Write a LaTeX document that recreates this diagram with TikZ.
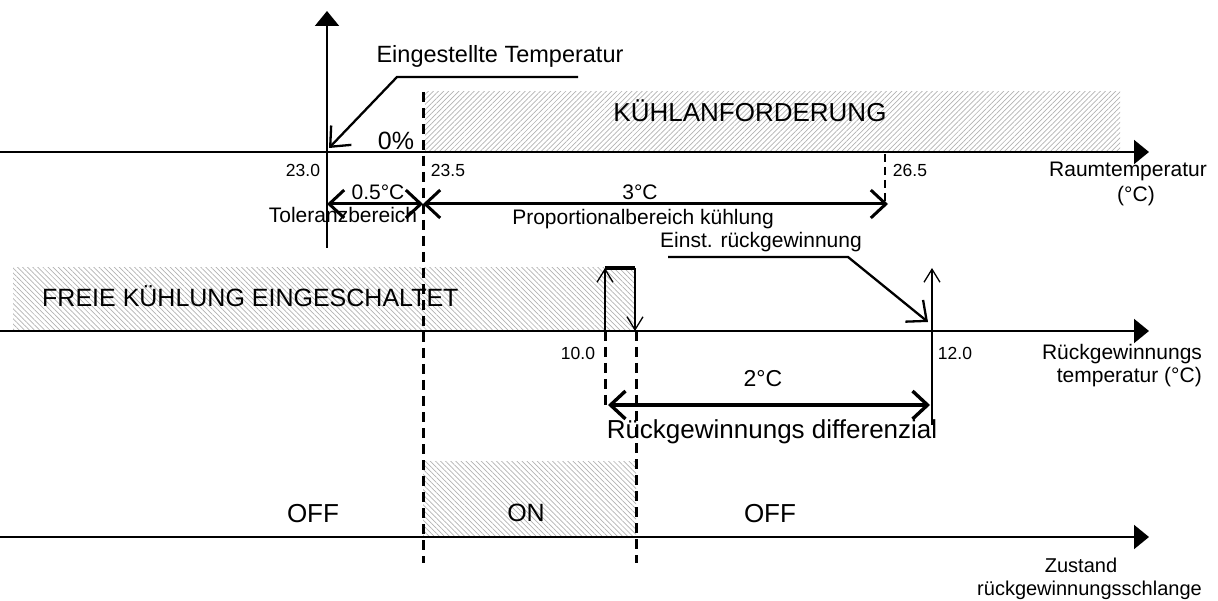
\documentclass[tikz,border=0pt]{standalone}
\usepackage{fontspec}
\setmainfont{Liberation Sans}
\usetikzlibrary{arrows.meta,patterns.meta}
\begin{document}
\begin{tikzpicture}[x=1pt,y=-1pt,
  axisline/.style={line width=1.9pt,-{Triangle[length=15pt,width=24pt]}},
  dimarrow/.style={line width=3pt,{Straight Barb[length=15pt,width=28pt]}-{Straight Barb[length=15pt,width=28pt]}},
  leader/.style={line width=2.3pt,-{Straight Barb[length=16pt,width=28pt]}},
  thinarrow/.style={line width=1.3pt,-{Straight Barb[length=13pt,width=16pt]}},
  dline/.style={line width=3pt,dash pattern=on 10pt off 6pt},
  dthin/.style={line width=1.8pt,dash pattern=on 8pt off 5pt},
  hatchA/.style={pattern={Lines[angle=45,distance=3.6pt,line width=0.7pt]},pattern color=gray!60},
  hatchB/.style={pattern={Lines[angle=-45,distance=3.6pt,line width=0.7pt]},pattern color=gray!60},
  big/.style={inner sep=0pt,anchor=base,font=\fontsize{26}{30}\selectfont},
  mid/.style={inner sep=0pt,anchor=base,font=\fontsize{21}{25}\selectfont},
  small/.style={inner sep=0pt,anchor=base,font=\fontsize{17.5}{21}\selectfont}]
\useasboundingbox (0,0) rectangle (1218,601);

% hatched areas
\path[hatchA] (425,92) rectangle (1120,152);
\path[hatchB] (13,268) rectangle (635,331);
\path[hatchB] (423,461) rectangle (636,537);

% coordinates
\coordinate (vb) at (327,248);
\coordinate (vt) at (327,11);
\coordinate (a1s) at (0,152);
\coordinate (a1e) at (1149,152);
\coordinate (a2s) at (0,331);
\coordinate (a2e) at (1149,331);
\coordinate (a3s) at (0,537);
\coordinate (a3e) at (1149,537);
\coordinate (d1t) at (423,92);
\coordinate (d1b) at (423,563);
\coordinate (d2t) at (636,331);
\coordinate (d2b) at (636,563);
\coordinate (d3t) at (605,331);
\coordinate (d3b) at (605,410);
\coordinate (d4t) at (885,154);
\coordinate (d4b) at (885,206);
\coordinate (t230) at (327,204);
\coordinate (t235) at (423,204);
\coordinate (t265) at (888,204);
\coordinate (e1) at (578,77);
\coordinate (e2) at (397,77);
\coordinate (e3) at (329,148);
\coordinate (r1) at (668,257);
\coordinate (r2) at (848,257);
\coordinate (r3) at (928,322);
\coordinate (h1) at (605,331);
\coordinate (h2) at (605,268);
\coordinate (h3) at (635,268);
\coordinate (h4) at (635,331);
\coordinate (g1) at (932,425);
\coordinate (g2) at (932,268);
\coordinate (k1) at (608,405);
\coordinate (k2) at (930,405);

% axes
\draw[axisline] (vb) -- (vt);
\draw[axisline] (a1s) -- (a1e);
\draw[axisline] (a2s) -- (a2e);
\draw[axisline] (a3s) -- (a3e);

% dashed lines
\draw[dline] (d1t) -- (d1b);
\draw[dline] (d2t) -- (d2b);
\draw[dline] (d3t) -- (d3b);
\draw[dthin] (d4t) -- (d4b);

% dimension arrows
\draw[dimarrow] (t230) -- (t235);
\draw[dimarrow] (t235) -- (t265);
\draw[dimarrow,line width=3.4pt] (k1) -- (k2);

% leaders
\draw[leader] (e1) -- (e2) -- (e3);
\draw[leader] (r1) -- (r2) -- (r3);

% hysteresis
\draw[thinarrow] (h1) -- (h2);
\draw[line width=3.4pt] (h2) -- (h3);
\draw[thinarrow] (h3) -- (h4);
\draw[thinarrow] (g1) -- (g2);

% texts
\node[mid,font=\fontsize{23.5}{27}\selectfont] (tEing) at (500,63) {Eingestellte Temperatur};
\node[big] (tKuehl) at (750,122) {KÜHLANFORDERUNG};
\node[big,font=\fontsize{25}{29}\selectfont] (tNull) at (396,150) {0\%};
\node[small] (t230l) at (303,177) {23.0};
\node[small] (t235l) at (448,177) {23.5};
\node[small] (t265l) at (910,177) {26.5};
\node[mid] (tRaum) at (1128,177) {Raumtemperatur};
\node[mid] (tRaumC) at (1136,202) {(°C)};
\node[mid] (t05) at (378,200) {0.5°C};
\node[mid] (t3) at (640,200) {3°C};
\node[mid] (tTol) at (343,223) {Toleranzbereich};
\node[mid] (tProp) at (643,225) {Proportionalbereich kühlung};
\node[mid] (tEinst) at (761,248) {Einst. rückgewinnung};
\node[big,font=\fontsize{25}{29}\selectfont,anchor=base west] (tFrei) at (42,307) {FREIE KÜHLUNG EINGESCHALTET};
\node[small] (t100) at (578,360) {10.0};
\node[small] (t120) at (955,360) {12.0};
\node[mid] (tRueck) at (1122,360) {Rückgewinnungs};
\node[mid,anchor=base east] (tRueckT) at (1202,382) {temperatur (°C)};
\node[mid,font=\fontsize{23}{27}\selectfont] (t2) at (763,387) {2°C};
\node[big] (tDiff) at (772,438) {Rückgewinnungs differenzial};
\node[big] (tOff1) at (313,522) {OFF};
\node[big,font=\fontsize{25}{29}\selectfont] (tOn) at (526,521) {ON};
\node[big] (tOff2) at (770,522) {OFF};
\node[mid,font=\fontsize{20}{24}\selectfont] (tZu) at (1081,572) {Zustand};
\node[mid,font=\fontsize{20}{24}\selectfont,anchor=base east] (tZu2) at (1202,595) {rückgewinnungsschlange};
\end{tikzpicture}
\end{document}
